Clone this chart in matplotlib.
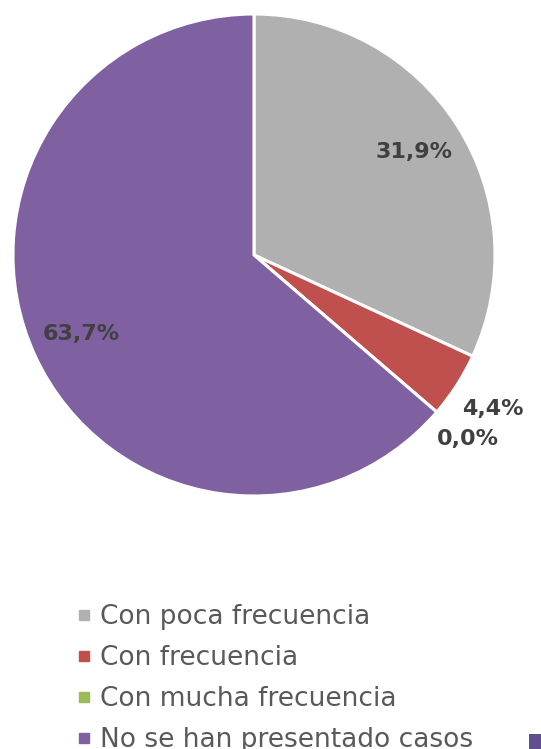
import numpy as np
import matplotlib
matplotlib.use("Agg")
import matplotlib.pyplot as plt
from matplotlib.lines import Line2D
from matplotlib.patches import Rectangle

categories = ["Con poca frecuencia", "Con frecuencia",
              "Con mucha frecuencia", "No se han presentado casos"]
values = [31.9, 4.4, 0.0, 63.7]
colors = ["#B0B0B0", "#C0504D", "#9BBB59", "#7F60A0"]
label_dist = [0.79, 1.18, 1.17, 0.79]

W, H = 541, 749
fig = plt.figure(figsize=(W / 100, H / 100), dpi=100)
# pie centre at (254, 255) px, radius 241 px
ax = fig.add_axes([13 / W, (H - 496) / H, 482 / W, 482 / H])

wedges, _ = ax.pie(values, colors=colors, startangle=90, counterclock=False,
                   wedgeprops=dict(edgecolor="white", linewidth=2.2))
ax.set_xlim(-1, 1)
ax.set_ylim(-1, 1)
ax.set_aspect("equal")
ax.axis("off")

for w, v, d in zip(wedges, values, label_dist):
    ang = np.deg2rad((w.theta1 + w.theta2) / 2)
    ax.text(d * np.cos(ang), d * np.sin(ang),
            f"{v:.1f}".replace(".", ",") + "%",
            ha="center", va="center", fontsize=16, fontweight="bold",
            color="#404040", clip_on=False)

handles = [Line2D([], [], marker="s", linestyle="none", markersize=7,
                  markerfacecolor=c, markeredgecolor=c) for c in colors]
leg = fig.legend(handles, categories, loc="upper left",
                 bbox_to_anchor=(76 / W, 1 - 604 / H), frameon=False,
                 fontsize=19, labelcolor="#595959", handlelength=0.6,
                 handletextpad=0.3, labelspacing=0.57, borderaxespad=0,
                 borderpad=0)

# stray marker fragment at the bottom-right edge
fig.add_artist(Rectangle((529 / W, 0), 12 / W, 15 / H, transform=fig.transFigure,
                         facecolor="#604F90", edgecolor="none"))

fig.savefig("out.png", dpi=100)
